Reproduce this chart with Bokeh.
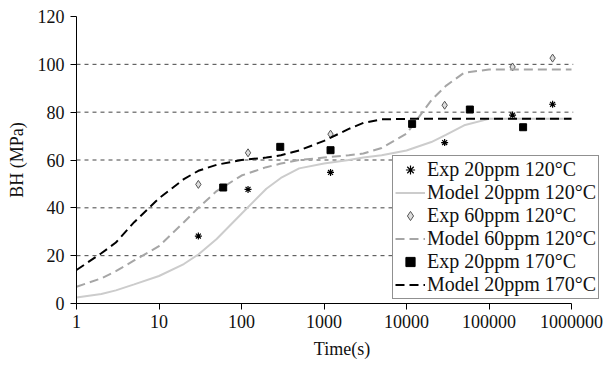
from bokeh.plotting import figure
from bokeh.models import FixedTicker, CustomJSTickFormatter, Legend, LegendItem
from bokeh.embed import file_html
from bokeh.resources import INLINE

# Experimental data
exp20_120_t = [30, 120, 1200, 29000, 193000, 590000]
exp20_120_v = [28.2, 47.7, 54.8, 67.3, 78.8, 83.3]
exp60_120_t = [30, 120, 1200, 29000, 193000, 590000]
exp60_120_v = [49.8, 63.0, 70.8, 82.9, 98.9, 102.6]
exp20_170_t = [60, 295, 1200, 11700, 58600, 259000]
exp20_170_v = [48.5, 65.5, 64.1, 75.1, 81.1, 73.7]

# Model curves
mod20_120_t = [1, 2, 3, 5, 10, 20, 30, 50, 100, 200, 300, 500, 1000, 2000, 3000, 5000,
               10000, 20000, 30000, 50000, 100000, 1000000]
mod20_120_v = [2.5, 4, 5.5, 8, 11.5, 16.5, 20.5, 27, 37.5, 48, 52.5, 56.5, 58.5, 60, 61, 62,
               64, 67.5, 70.5, 74.5, 77.2, 77.2]
mod60_120_t = [1, 2, 3, 5, 10, 20, 30, 50, 100, 200, 300, 500, 1000, 2000, 3000, 5000,
               10000, 20000, 30000, 50000, 100000, 1000000]
mod60_120_v = [7, 10.5, 13.5, 18, 24, 34, 40, 47, 53.5, 57, 58.5, 60, 61, 62, 62.7, 65,
               71, 85, 91, 96.5, 97.8, 97.8]
mod20_170_t = [1, 2, 3, 5, 10, 20, 30, 50, 100, 200, 300, 500, 1000, 2000, 3000, 5000,
               10000, 1000000]
mod20_170_v = [14, 21, 25.5, 34, 44, 52, 55.5, 58, 60, 61, 62, 64, 68, 73, 75.5, 77,
               77.2, 77.2]

x_ticks = [1, 10, 100, 1000, 10000, 100000, 1000000]
y_ticks = [0, 20, 40, 60, 80, 100, 120]
grid_ticks = [20, 40, 60, 80, 100]
x_min, x_max = 1, 1000000

FONT = "Liberation Serif"

# frame extends to the right window edge so the legend is not clipped;
# the axis and the gridlines stop at 1e6 as in the reference
x_end = 10 ** (6 + 36 / 82.5)
p = figure(width=607, height=368, x_axis_type="log", x_range=(x_min, x_end), y_range=(0, 120),
           output_backend="svg", toolbar_location=None,
           min_border_left=76, min_border_right=0, min_border_top=16, min_border_bottom=65)
p.outline_line_color = None
p.background_fill_color = "white"
p.border_fill_color = "white"

p.xgrid.visible = False
p.ygrid.visible = False
p.multi_line([[x_min, x_max * 1.05] for _ in grid_ticks], [[g, g] for g in grid_ticks],
             line_color="#444444", line_dash="4 4", line_width=1)

for ax in (p.xaxis[0], p.yaxis[0]):
    ax.major_label_text_font = FONT
    ax.major_label_text_font_size = "18px"
    ax.major_label_text_color = "#111111"
    ax.axis_label_text_font = FONT
    ax.axis_label_text_font_size = "18px"
    ax.axis_label_text_font_style = "normal"
    ax.axis_label_text_color = "#111111"
    ax.axis_line_color = "black"
    ax.major_tick_line_color = "black"
    ax.major_tick_out = 6
    ax.major_tick_in = 0
    ax.minor_tick_line_color = None

p.xaxis.ticker = FixedTicker(ticks=x_ticks)
p.xaxis.formatter = CustomJSTickFormatter(code="return tick.toFixed(0);")
p.xaxis.bounds = (x_min, x_max)
p.xaxis.axis_label = "Time(s)"
p.xaxis.major_label_standoff = 5
p.xaxis.axis_label_standoff = 8
p.yaxis.ticker = FixedTicker(ticks=y_ticks)
p.yaxis.axis_label = "BH (MPa)"
p.yaxis.major_label_standoff = 6
p.yaxis.axis_label_standoff = 8

r1 = p.scatter(exp20_120_t, exp20_120_v, marker="asterisk", size=7, line_color="black", line_width=1.2)
r2 = p.line(mod20_120_t, mod20_120_v, line_color="#cccccc", line_width=2)
r3 = p.scatter(exp60_120_t, exp60_120_v, marker="diamond", size=8, line_color="#555555",
               fill_color="#dddddd", line_width=1)
r4 = p.line(mod60_120_t, mod60_120_v, line_color="#a6a6a6", line_width=2, line_dash="9 5")
r5 = p.scatter(exp20_170_t, exp20_170_v, marker="square", size=7, line_color="black", fill_color="black")
r6 = p.line(mod20_170_t, mod20_170_v, line_color="black", line_width=2, line_dash="9 5")

legend = Legend(items=[
    LegendItem(label="Exp 20ppm 120°C", renderers=[r1]),
    LegendItem(label="Model 20ppm 120°C", renderers=[r2]),
    LegendItem(label="Exp 60ppm 120°C", renderers=[r3]),
    LegendItem(label="Model 60ppm 120°C", renderers=[r4]),
    LegendItem(label="Exp 20ppm 170°C", renderers=[r5]),
    LegendItem(label="Model 20ppm 170°C", renderers=[r6]),
], location=(316, 4))
legend.label_text_font = FONT
legend.label_text_font_size = "20px"
legend.label_text_color = "#111111"
legend.label_height = 23
legend.glyph_height = 23
legend.glyph_width = 30
legend.label_standoff = 2
legend.spacing = 0
legend.padding = 2
legend.margin = 0
legend.border_line_color = "#222222"
legend.border_line_width = 1
legend.background_fill_color = "white"
legend.background_fill_alpha = 1
p.add_layout(legend, "center")

open("out.html", "w").write(file_html(p, INLINE))
